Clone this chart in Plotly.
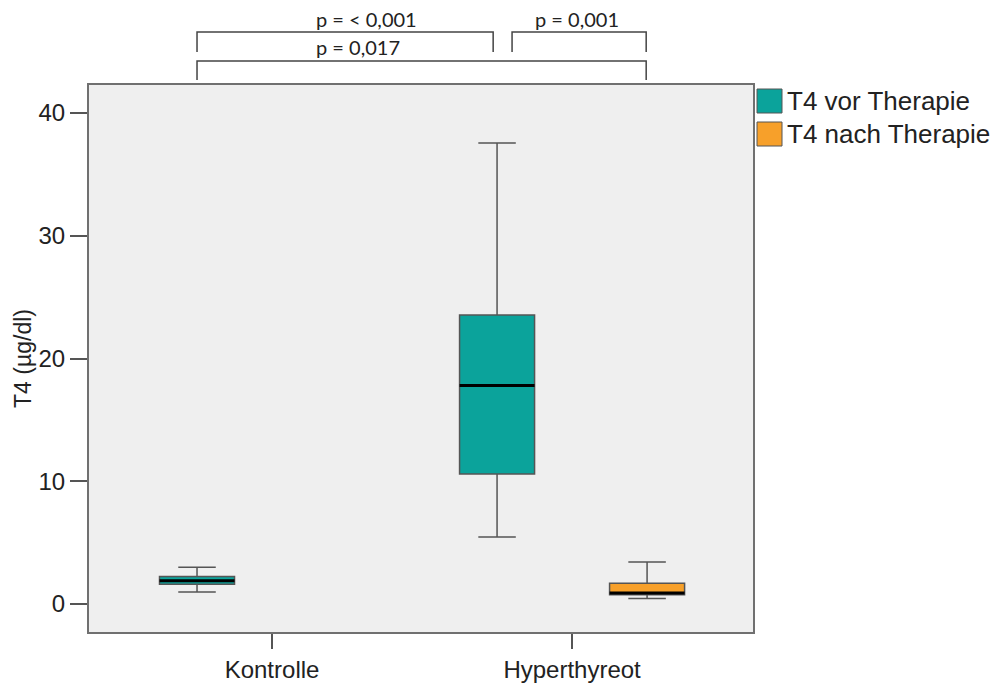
import plotly.graph_objects as go

# ---- data ----
categories = ["Kontrolle", "Hyperthyreot"]

vor_groups = ["Kontrolle", "Hyperthyreot"]
vor_lower = [0.98, 5.46]
vor_q1 = [1.6, 10.6]
vor_median = [1.9, 17.8]
vor_q3 = [2.25, 23.55]
vor_upper = [3.0, 37.55]

nach_groups = ["Hyperthyreot"]
nach_lower = [0.45]
nach_q1 = [0.75]
nach_median = [0.9]
nach_q3 = [1.7]
nach_upper = [3.42]

series_names = ["T4 vor Therapie", "T4 nach Therapie"]
colors = ["#0ba39b", "#f7a02a"]

p_labels = ["p = < 0,001", "p = 0,001", "p = 0,017"]

FONT = "Liberation Sans, Arial, sans-serif"

fig = go.Figure()
fig.add_trace(go.Box(
    x=vor_groups, q1=vor_q1, median=vor_median, q3=vor_q3,
    lowerfence=vor_lower, upperfence=vor_upper,
    name=series_names[0], fillcolor=colors[0],
    line=dict(color="#555555", width=1.5), whiskerwidth=0.5,
    boxpoints=False, showlegend=False, offsetgroup="a"))
fig.add_trace(go.Box(
    x=nach_groups, q1=nach_q1, median=nach_median, q3=nach_q3,
    lowerfence=nach_lower, upperfence=nach_upper,
    name=series_names[1], fillcolor=colors[1],
    line=dict(color="#555555", width=1.5), whiskerwidth=0.5,
    boxpoints=False, showlegend=False, offsetgroup="b"))

# black median lines (positions derived from category index + group offset)
offsets = [-0.25, 0.25]
half_w = 0.125
for s, (groups, meds) in enumerate([(vor_groups, vor_median), (nach_groups, nach_median)]):
    for g, m in zip(groups, meds):
        c = categories.index(g) + offsets[s]
        fig.add_shape(type="line", xref="x", yref="y", x0=c - half_w, x1=c + half_w,
                      y0=m, y1=m, line=dict(color="black", width=3))

# significance brackets
def bracket(x0, x1, ytop, ybot):
    fig.add_shape(type="path", xref="x", yref="paper",
                  path=f"M {x0} {ybot} L {x0} {ytop} L {x1} {ytop} L {x1} {ybot}",
                  line=dict(color="#444444", width=1.5))

H = 547.0
def py(p):
    return (632 - p) / H

bracket(-0.25, 0.737, py(32), py(52))
bracket(0.8, 1.247, py(32), py(52))
bracket(-0.25, 1.247, py(61), py(80))

ann_font = dict(family="Lato, Open Sans, sans-serif", size=20, color="#222222")
for txt, xc, yc in [(p_labels[0], 0.315, 19), (p_labels[1], 1.015, 19), (p_labels[2], 0.285, 47)]:
    fig.add_annotation(x=xc, y=py(yc), xref="x", yref="paper", text=txt,
                       showarrow=False, font=ann_font, xanchor="center", yanchor="middle")

# manual legend
W = 664.0
def pxx(p):
    return (p - 89) / W

for i, (nm, col) in enumerate(zip(series_names, colors)):
    top = 89 + i * 33
    fig.add_shape(type="rect", xref="paper", yref="paper",
                  x0=pxx(757), x1=pxx(782), y0=py(top + 24), y1=py(top),
                  fillcolor=col, line=dict(color="#555555", width=1))
    fig.add_annotation(x=pxx(785), y=py(top + 12), xref="paper", yref="paper",
                       text=nm, showarrow=False, xanchor="left", yanchor="middle",
                       font=dict(family=FONT, size=26, color="#222222"))

fig.update_layout(
    width=997, height=684,
    margin=dict(l=89, r=244, t=85, b=52, autoexpand=False),
    paper_bgcolor="white", plot_bgcolor="#efefef",
    boxmode="group", boxgap=0, boxgroupgap=0.5,
    showlegend=False,
    font=dict(family=FONT, color="#222222"),
)
fig.update_xaxes(
    type="category", categoryorder="array", categoryarray=categories,
    range=[-0.61, 1.603], showgrid=False, zeroline=False,
    showline=True, linecolor="#707070", linewidth=2, mirror=True,
    ticks="outside", ticklen=15, tickcolor="#555555", tickwidth=1.5,
    tickfont=dict(size=24, family=FONT, color="#222222"),
)
fig.update_yaxes(
    range=[-2.28, 42.28], tickvals=[0, 10, 20, 30, 40],
    showgrid=False, zeroline=False,
    showline=True, linecolor="#707070", linewidth=2, mirror=True,
    ticks="outside", ticklen=17, tickcolor="#555555", tickwidth=1.5,
    tickfont=dict(size=24, family=FONT, color="#222222"),
    title=dict(text="T4 (µg/dl)", font=dict(size=23, family=FONT, color="#222222"), standoff=0),
)

fig.write_html(
    "out.html",
    config={"displayModeBar": False},
    post_script="document.body.style.margin='0';document.body.style.padding='0';",
)
